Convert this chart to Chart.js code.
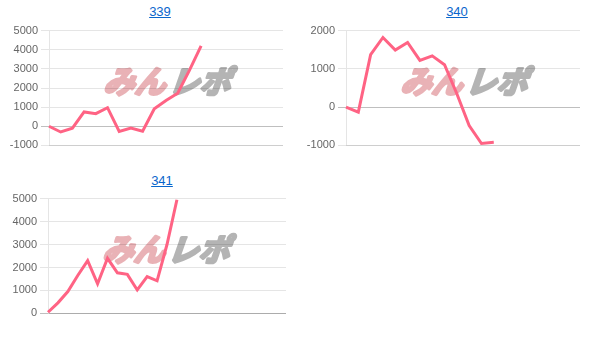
<!DOCTYPE html>
<html>
<head>
<meta charset="utf-8">
<script src="https://cdn.jsdelivr.net/npm/chart.js@4/dist/chart.umd.min.js"></script>
<style>
  body { margin: 0; background: #fff; }
  .title {
    position: absolute;
    width: 120px;
    text-align: center;
    font: 13px "Liberation Sans", Arial, sans-serif;
  }
  .title a { color: #0a66cc; text-decoration: underline; }
  canvas { position: absolute; }
</style>
</head>
<body>
<div class="title" style="left:100px; top:4px;"><a href="#">339</a></div>
<div class="title" style="left:397px; top:4px;"><a href="#">340</a></div>
<div class="title" style="left:102px; top:173px;"><a href="#">341</a></div>

<canvas id="c339" width="273" height="134" style="left:10px; top:21px;"></canvas>
<canvas id="c340" width="273" height="134" style="left:307px; top:21px;"></canvas>
<canvas id="c341" width="277" height="134" style="left:9px; top:189px;"></canvas>

<script>
// ===== データ =====
const games339 = ["1","2","3","4","5","6","7","8","9","10","11","12","13","14","15","16","17","18","19","20","21"];
const values339 = [0, -300, -100, 750, 660, 970, -270, -90, -260, 910, 1350, 1730, 2920, 4200];

const games340 = ["1","2","3","4","5","6","7","8","9","10","11","12","13","14","15","16","17","18","19","20"];
const values340 = [0, -130, 1370, 1820, 1490, 1690, 1220, 1340, 1110, 350, -480, -950, -920];

const games341 = ["1","2","3","4","5","6","7","8","9","10","11","12","13","14","15","16","17","18","19","20","21","22","23","24","25"];
const values341 = [50, 460, 950, 1650, 2300, 1290, 2400, 1770, 1700, 1020, 1600, 1420, 3000, 4950];

const yRange339 = { min: -1000, max: 5000 };
const yRange340 = { min: -1000, max: 2000 };
const yRange341 = { min: 0, max: 5000 };

// ===== 透かしロゴ =====
const watermark = {
  id: "watermark",
  beforeDraw(chart) {
    const ctx = chart.ctx;
    const area = chart.chartArea;
    ctx.save();
    ctx.font = "bold 31px 'Noto Sans CJK JP'";
    ctx.textBaseline = "alphabetic";
    ctx.lineJoin = "round";
    ctx.lineWidth = 3;
    const x = area.left + 54;
    const y = area.top + 62;
    ctx.translate(x, y);
    ctx.transform(1, 0, -0.35, 1, 0, 0);
    ctx.fillStyle = ctx.strokeStyle = "rgb(233, 178, 182)";
    ctx.strokeText("みん", 0, 0);
    ctx.fillText("みん", 0, 0);
    const w = ctx.measureText("みん").width;
    ctx.fillStyle = ctx.strokeStyle = "rgb(180, 180, 180)";
    ctx.strokeText("レポ", w + 3, 0);
    ctx.fillText("レポ", w + 3, 0);
    ctx.restore();
  }
};

function drawChart(id, labels, data, range) {
  const ctx = document.getElementById(id).getContext("2d");
  return new Chart(ctx, {
    type: "line",
    data: {
      labels,
      datasets: [{
        data,
        borderColor: "rgb(255, 99, 132)",
        borderWidth: 3,
        pointRadius: 0,
        tension: 0,
        fill: false
      }]
    },
    options: {
      responsive: false,
      animation: false,
      layout: { padding: { top: 8, bottom: 8, left: 0, right: 0 } },
      plugins: {
        legend: { display: false },
        tooltip: { enabled: false }
      },
      scales: {
        x: {
          ticks: { display: false },
          grid: { display: false, drawTicks: false },
          border: { display: true, color: "rgba(0,0,0,0.1)" }
        },
        y: {
          min: range.min,
          max: range.max,
          afterFit(scale) { scale.width = 39; },
          ticks: {
            stepSize: 1000,
            color: "#666",
            padding: 3,
            font: { family: "'Liberation Sans', Arial, sans-serif", size: 11 },
            callback: (v) => String(v)
          },
          grid: {
            tickLength: 8,
            color: (c) => (c.tick && c.tick.value === 0 ? "rgba(0,0,0,0.25)" : "rgba(0,0,0,0.1)")
          },
          border: { display: true, color: "rgba(0,0,0,0.1)" }
        }
      }
    },
    plugins: [watermark]
  });
}

drawChart("c339", games339, values339, yRange339);
drawChart("c340", games340, values340, yRange340);
drawChart("c341", games341, values341, yRange341);
</script>
</body>
</html>
